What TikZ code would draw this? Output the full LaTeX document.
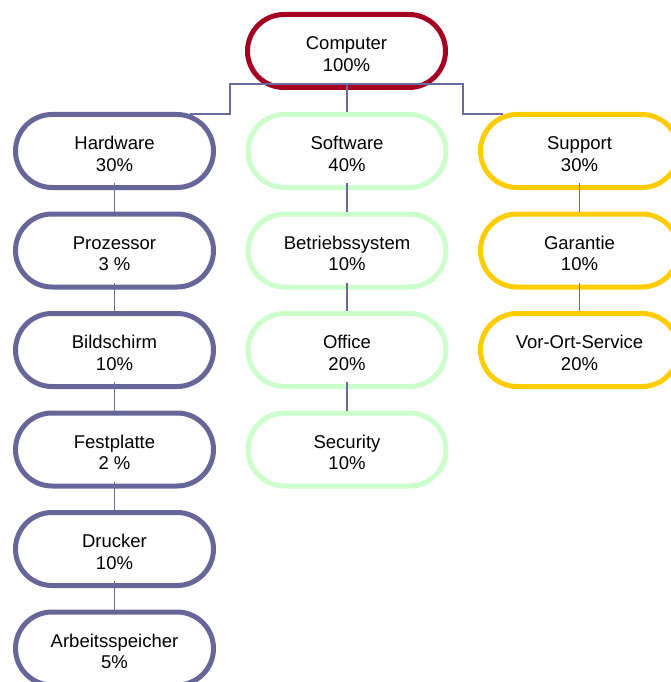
\documentclass[tikz,border=0pt]{standalone}
\usepackage{fontspec}
\setmainfont{Liberation Sans}
\usepackage{tikz}
\tikzset{>=latex}
\definecolor{hwblue}{HTML}{666699}
\definecolor{rootred}{HTML}{A50021}
\definecolor{swgreen}{HTML}{CCFFCC}
\definecolor{supyellow}{HTML}{FFCC00}
\definecolor{linkblue}{HTML}{6A6A9C}
% name and share, set a little below the middle
\newcommand{\share}[2]{\raisebox{-9.5pt}[0pt][0pt]{\begin{tabular}{@{}c@{}}#1\\#2\end{tabular}}}

\begin{document}
\begin{tikzpicture}[x=1pt,y=-1pt,
    item/.style={draw, line width=5pt, fill=white, rounded corners=36.5pt,
        minimum width=198pt, minimum height=73pt,
        font=\fontsize{18.5}{21.5}\selectfont},
    link/.style={draw=linkblue, line width=1.5pt}]
            \useasboundingbox (0,0) rectangle (671,682);
            \node[item, draw=rootred] (computer) at (346.5,51) {\share{Computer}{100\%}};
            \node[item, draw=hwblue] (hardware) at (114.5,151) {\share{Hardware}{30\%}};
            \node[item, draw=hwblue] (prozessor) at (114.5,250.5) {\share{Prozessor}{3 \%}};
            \node[item, draw=hwblue] (bildschirm) at (114.5,350) {\share{Bildschirm}{10\%}};
            \node[item, draw=hwblue] (festplatte) at (114.5,449.5) {\share{Festplatte}{2 \%}};
            \node[item, draw=hwblue] (drucker) at (114.5,549) {\share{Drucker}{10\%}};
            \node[item, draw=hwblue] (speicher) at (114.5,648.5) {\share{Arbeitsspeicher}{5\%}};
            \node[item, draw=swgreen] (software) at (347,151) {\share{Software}{40\%}};
            \node[item, draw=swgreen] (betrieb) at (347,250.5) {\share{Betriebssystem}{10\%}};
            \node[item, draw=swgreen] (office) at (347,350) {\share{Office}{20\%}};
            \node[item, draw=swgreen] (security) at (347,449.5) {\share{Security}{10\%}};
            \node[item, draw=supyellow] (support) at (579.5,151) {\share{Support}{30\%}};
            \node[item, draw=supyellow] (garantie) at (579.5,250.5) {\share{Garantie}{10\%}};
            \node[item, draw=supyellow] (vorort) at (579.5,350) {\share{Vor-Ort-Service}{20\%}};
            \coordinate (busl) at (230,84);
            \coordinate (busr) at (463,84);
            \draw[link] ([xshift=-26pt,yshift=-2pt]hardware.north east) -| (busl) -- (busr) |- ([xshift=25pt,yshift=-2pt]support.north west);
            \draw[link] (software.north) -- (software.north |- busl);
            \draw[link] ([yshift=7pt]hardware.south) -- (prozessor.north);
            \draw[link] ([yshift=7pt]prozessor.south) -- (bildschirm.north);
            \draw[link] ([yshift=7pt]bildschirm.south) -- (festplatte.north);
            \draw[link] ([yshift=7pt]festplatte.south) -- (drucker.north);
            \draw[link] ([yshift=7pt]drucker.south) -- (speicher.north);
            \draw[link] ([yshift=7pt]software.south) -- (betrieb.north);
            \draw[link] ([yshift=7pt]betrieb.south) -- (office.north);
            \draw[link] ([yshift=7pt]office.south) -- (security.north);
            \draw[link] ([yshift=7pt]support.south) -- (garantie.north);
            \draw[link] ([yshift=7pt]garantie.south) -- (vorort.north);
        \end{tikzpicture}
\end{document}
